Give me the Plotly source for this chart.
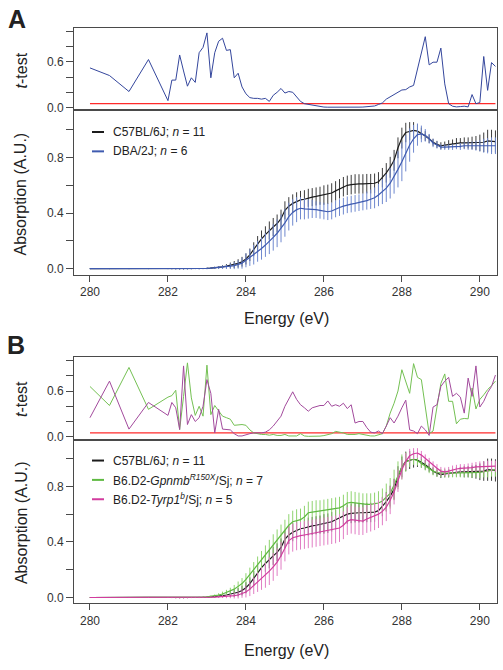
import plotly.graph_objects as go

# ---------------- data ----------------
ENERGY = [280.0, 280.5, 281.0, 281.5,
          282.0, 282.1, 282.2, 282.3, 282.4, 282.5, 282.6, 282.7, 282.8, 282.9,
          283.0, 283.1, 283.2, 283.3, 283.4, 283.5, 283.6, 283.7, 283.8, 283.9,
          284.0, 284.1, 284.2, 284.3, 284.4, 284.5, 284.6, 284.7, 284.8, 284.9,
          285.0, 285.1, 285.2, 285.3, 285.4, 285.5, 285.6, 285.7, 285.8, 285.9,
          286.0, 286.1, 286.2, 286.3, 286.4, 286.5, 286.6, 286.7, 286.8, 286.9,
          287.0, 287.1, 287.2, 287.3, 287.4, 287.5, 287.6, 287.7, 287.8, 287.9,
          288.0, 288.1, 288.2, 288.3, 288.4, 288.5, 288.6, 288.7, 288.8, 288.9,
          289.0, 289.1, 289.2, 289.3, 289.4, 289.5, 289.6, 289.7, 289.8, 289.9,
          290.0, 290.1, 290.2, 290.3, 290.4]

THRESHOLD = 0.05

T_DBA = [0.52, 0.42, 0.21, 0.63,
         0.09, 0.36, 0.36, 0.69, 0.48, 0.28, 0.39, 0.33, 0.72, 0.79,
         0.98, 0.39, 0.72, 0.87, 0.91, 0.75, 0.76, 0.39, 0.45, 0.27,
         0.18, 0.13, 0.12, 0.12, 0.11, 0.12, 0.08, 0.16, 0.20, 0.25,
         0.19, 0.21, 0.20, 0.14, 0.08, 0.05, 0.04, 0.03, 0.02, 0.01,
         0.006, 0.004, 0.003, 0.003, 0.003, 0.003, 0.003, 0.003, 0.004, 0.005,
         0.006, 0.008, 0.012, 0.02, 0.04, 0.06, 0.11, 0.14, 0.16, 0.20,
         0.23, 0.235, 0.27, 0.29, 0.51, 0.72, 0.93, 0.56, 0.595, 0.595,
         0.78, 0.31, 0.05, 0.017, 0.008, 0.012, 0.017, 0.008, 0.17, 0.05,
         0.065, 0.67, 0.225, 0.59, 0.54]

T_GPNMB = [0.66, 0.41, 0.91, 0.36,
           0.52, 0.54, 0.61, 0.095, 0.53, 0.97, 0.51, 0.28, 0.40, 0.27,
           0.94, 0.29, 0.41, 0.335, 0.27, 0.25, 0.23, 0.15, 0.16, 0.16,
           0.15, 0.09, 0.05, 0.04, 0.03, 0.03, 0.02, 0.03, 0.017, 0.017,
           0.03, 0.01, 0.01, 0.01, 0.04, 0.01, 0.005, 0.005, 0.005, 0.008,
           0.015, 0.03, 0.04, 0.07, 0.06, 0.05, 0.03, 0.03, 0.03, 0.04,
           0.03, 0.01, 0.01, 0.01, 0.02, 0.04, 0.14, 0.31, 0.44, 0.60,
           0.88, 0.73, 0.57, 0.96, 0.78, 0.75, 0.40, 0.04, 0.075, 0.36,
           0.70, 0.825, 0.465, 0.465, 0.17, 0.23, 0.24, 0.235, 0.64, 0.365,
           0.49, 0.55, 0.62, 0.67, 0.73]

T_TYRP1 = [0.25, 0.73, 0.10, 0.45,
           0.28, 0.45, 0.38, 0.095, 0.93, 0.16, 0.29, 0.20, 0.25, 0.40,
           0.75, 0.57, 0.05, 0.36, 0.10, 0.095, 0.09, 0.04, 0.01, 0.01,
           0.03, 0.04, 0.05, 0.05, 0.05, 0.06, 0.09, 0.14, 0.20, 0.27,
           0.40, 0.49, 0.59, 0.49, 0.42, 0.38, 0.335, 0.38, 0.40, 0.41,
           0.41, 0.47, 0.40, 0.42, 0.40, 0.44, 0.37, 0.42, 0.18, 0.20,
           0.20, 0.12, 0.06, 0.05, 0.075, 0.04, 0.14, 0.25, 0.18, 0.27,
           0.38, 0.48, 0.09, 0.075, 0.04, 0.14, 0.09, 0.017, 0.39, 0.42,
           0.66, 0.73, 0.78, 0.53, 0.57, 0.52, 0.31, 0.77, 0.53, 0.93,
           0.39, 0.465, 0.58, 0.66, 0.81]

ABS_B6 = [0.0, 0.0, 0.0, 0.0,
          0.0, -0.001, -0.002, -0.003, -0.003, -0.002, -0.001, 0.0, 0.0, 0.001,
          0.002, 0.004, 0.006, 0.009, 0.013, 0.018, 0.024, 0.03, 0.038, 0.05,
          0.07, 0.1, 0.14, 0.18, 0.215, 0.245, 0.275, 0.3, 0.325, 0.36,
          0.42, 0.45, 0.47, 0.485, 0.495, 0.5, 0.51, 0.515, 0.52, 0.525,
          0.53, 0.535, 0.545, 0.56, 0.575, 0.59, 0.6, 0.605, 0.61, 0.61,
          0.61, 0.612, 0.612, 0.615, 0.625, 0.655, 0.69, 0.73, 0.78, 0.87,
          0.94, 0.98, 0.99, 0.995, 0.99, 0.975, 0.955, 0.935, 0.91, 0.895,
          0.885, 0.89, 0.895, 0.9, 0.905, 0.905, 0.905, 0.905, 0.905, 0.905,
          0.905, 0.91, 0.92, 0.92, 0.915]
ERR_B6 = [0.003, 0.003, 0.003, 0.003,
          0.003, 0.003, 0.003, 0.003, 0.003, 0.003, 0.003, 0.003, 0.004, 0.004,
          0.005, 0.006, 0.008, 0.01, 0.012, 0.015, 0.02, 0.025, 0.03, 0.035,
          0.04, 0.045, 0.05, 0.055, 0.06, 0.06, 0.065, 0.065, 0.065, 0.065,
          0.065, 0.065, 0.065, 0.065, 0.065, 0.065, 0.065, 0.065, 0.065, 0.065,
          0.07, 0.07, 0.07, 0.07, 0.07, 0.07, 0.07, 0.07, 0.07, 0.07,
          0.07, 0.07, 0.07, 0.07, 0.07, 0.07, 0.07, 0.075, 0.075, 0.075,
          0.075, 0.07, 0.065, 0.06, 0.05, 0.04, 0.035, 0.03, 0.025, 0.025,
          0.025, 0.025, 0.03, 0.03, 0.035, 0.035, 0.04, 0.04, 0.045, 0.05,
          0.06, 0.07, 0.08, 0.08, 0.08]

ABS_DBA = [0.0, 0.0, 0.0, 0.0,
           0.0, -0.001, -0.002, -0.003, -0.003, -0.002, -0.001, 0.0, 0.0, 0.001,
           0.002, 0.004, 0.006, 0.008, 0.01, 0.013, 0.018, 0.022, 0.03, 0.04,
           0.06, 0.08, 0.1, 0.125, 0.145, 0.17, 0.195, 0.225, 0.255, 0.29,
           0.33, 0.375, 0.405, 0.425, 0.435, 0.43, 0.43, 0.43, 0.425, 0.42,
           0.415, 0.41, 0.415, 0.43, 0.44, 0.45, 0.46, 0.465, 0.47, 0.475,
           0.48, 0.49, 0.5, 0.51, 0.53, 0.555, 0.58, 0.615, 0.66, 0.715,
           0.77, 0.83, 0.89, 0.935, 0.965, 0.97, 0.96, 0.935, 0.905, 0.89,
           0.875, 0.875, 0.875, 0.875, 0.88, 0.88, 0.885, 0.885, 0.885, 0.885,
           0.885, 0.885, 0.885, 0.885, 0.885]
ERR_DBA = [0.003, 0.003, 0.003, 0.003,
           0.003, 0.003, 0.003, 0.003, 0.003, 0.003, 0.003, 0.003, 0.004, 0.004,
           0.005, 0.006, 0.008, 0.01, 0.012, 0.015, 0.02, 0.025, 0.03, 0.04,
           0.05, 0.06, 0.07, 0.075, 0.08, 0.085, 0.09, 0.095, 0.1, 0.1,
           0.1, 0.1, 0.095, 0.09, 0.08, 0.075, 0.07, 0.065, 0.06, 0.06,
           0.06, 0.06, 0.06, 0.06, 0.06, 0.06, 0.06, 0.06, 0.06, 0.06,
           0.06, 0.065, 0.07, 0.075, 0.08, 0.09, 0.1, 0.11, 0.12, 0.13,
           0.14, 0.13, 0.12, 0.1, 0.08, 0.06, 0.045, 0.035, 0.03, 0.025,
           0.02, 0.02, 0.02, 0.02, 0.02, 0.025, 0.025, 0.03, 0.03, 0.035,
           0.04, 0.05, 0.055, 0.06, 0.06]

ABS_GPNMB = [0.0, 0.0, 0.0, 0.0,
             0.0, -0.001, -0.002, -0.002, -0.002, -0.001, 0.0, 0.0, 0.001, 0.002,
             0.004, 0.007, 0.012, 0.018, 0.025, 0.035, 0.045, 0.06, 0.08, 0.1,
             0.13, 0.165, 0.2, 0.235, 0.27, 0.305, 0.34, 0.375, 0.41, 0.445,
             0.48, 0.52, 0.545, 0.555, 0.56, 0.58, 0.61, 0.615, 0.62, 0.62,
             0.625, 0.63, 0.635, 0.64, 0.645, 0.66, 0.68, 0.685, 0.68, 0.675,
             0.67, 0.67, 0.67, 0.675, 0.68, 0.695, 0.72, 0.75, 0.81, 0.88,
             0.94, 0.975, 0.99, 0.995, 0.985, 0.965, 0.945, 0.925, 0.91, 0.9,
             0.895, 0.895, 0.895, 0.895, 0.895, 0.895, 0.895, 0.895, 0.895, 0.9,
             0.9, 0.905, 0.91, 0.915, 0.92]
ERR_GPNMB = [0.003, 0.003, 0.003, 0.003,
             0.003, 0.003, 0.003, 0.003, 0.003, 0.003, 0.003, 0.004, 0.004, 0.004,
             0.005, 0.007, 0.01, 0.013, 0.017, 0.02, 0.025, 0.03, 0.035, 0.04,
             0.045, 0.05, 0.055, 0.06, 0.065, 0.07, 0.075, 0.08, 0.08, 0.08,
             0.08, 0.08, 0.08, 0.08, 0.08, 0.08, 0.08, 0.08, 0.08, 0.08,
             0.08, 0.08, 0.08, 0.08, 0.08, 0.08, 0.08, 0.08, 0.08, 0.08,
             0.08, 0.08, 0.08, 0.08, 0.085, 0.09, 0.1, 0.11, 0.11, 0.1,
             0.09, 0.07, 0.05, 0.04, 0.035, 0.03, 0.03, 0.03, 0.03, 0.03,
             0.03, 0.03, 0.03, 0.03, 0.03, 0.03, 0.03, 0.03, 0.035, 0.035,
             0.04, 0.04, 0.045, 0.045, 0.05]

ABS_TYRP1 = [0.0, 0.0, 0.0, 0.0,
             0.0, -0.001, -0.002, -0.003, -0.003, -0.002, -0.001, 0.0, 0.0, 0.0,
             0.001, 0.002, 0.003, 0.004, 0.005, 0.007, 0.01, 0.013, 0.018, 0.028,
             0.04, 0.06, 0.085, 0.11, 0.135, 0.16, 0.19, 0.22, 0.255, 0.3,
             0.36, 0.41, 0.43, 0.44, 0.445, 0.45, 0.455, 0.46, 0.465, 0.47,
             0.475, 0.48, 0.485, 0.49, 0.5, 0.52, 0.55, 0.56, 0.555, 0.55,
             0.55, 0.565, 0.575, 0.585, 0.6, 0.62, 0.65, 0.7, 0.76, 0.84,
             0.92, 0.98, 1.02, 1.035, 1.04, 1.025, 1.0, 0.975, 0.95, 0.93,
             0.91, 0.905, 0.91, 0.92, 0.925, 0.93, 0.93, 0.935, 0.935, 0.94,
             0.94, 0.94, 0.945, 0.945, 0.945]
ERR_TYRP1 = [0.003, 0.003, 0.003, 0.003,
             0.003, 0.003, 0.003, 0.003, 0.003, 0.003, 0.003, 0.003, 0.003, 0.003,
             0.003, 0.004, 0.005, 0.007, 0.009, 0.012, 0.015, 0.02, 0.025, 0.03,
             0.04, 0.05, 0.06, 0.07, 0.08, 0.09, 0.1, 0.1, 0.1, 0.1,
             0.1, 0.1, 0.1, 0.1, 0.1, 0.1, 0.1, 0.1, 0.1, 0.1,
             0.1, 0.1, 0.1, 0.1, 0.1, 0.1, 0.1, 0.1, 0.1, 0.1,
             0.1, 0.1, 0.1, 0.1, 0.1, 0.1, 0.1, 0.1, 0.09, 0.08,
             0.07, 0.06, 0.05, 0.04, 0.035, 0.03, 0.03, 0.03, 0.03, 0.03,
             0.03, 0.03, 0.03, 0.03, 0.03, 0.03, 0.03, 0.03, 0.035, 0.035,
             0.04, 0.04, 0.04, 0.04, 0.04]

X_TICKS = [280, 282, 284, 286, 288, 290]
T_TICKS = [0.0, 0.6]
T_TICK_TEXT = ["0.0", "0.6"]
A_TICKS = [0.0, 0.4, 0.8]
A_TICK_TEXT = ["0.0", "0.4", "0.8"]
MINOR_STEP = 0.2

LEG_A = ["C57BL/6J; <i>n</i> = 11", "DBA/2J; <i>n</i> = 6"]
LEG_B = ["C57BL/6J; <i>n</i> = 11",
         "B6.D2-<i>Gpnmb</i><sup><i>R150X</i></sup>/Sj; <i>n</i> = 7",
         "B6.D2-<i>Tyrp1</i><sup><i>b</i></sup>/Sj; <i>n</i> = 5"]

# ---------------- style ----------------
W, H = 503, 670
FONT = "Liberation Sans, Arial, Helvetica, sans-serif"
C_BLACK, C_BLACK_E = "#1c1c1c", "#3c3c3c"
C_BLUE, C_BLUE_E = "#3f5bb0", "#6f88cf"
C_TBLUE = "#34469c"
C_GREEN, C_GREEN_E = "#5fba42", "#8fd46f"
C_PINK, C_PINK_E = "#d23c9e", "#e17dc4"
C_TGREEN, C_TPURP = "#74c053", "#a24a9c"
C_RED = "#ff2b2b"
FRAME = "#4a4a4a"


def px_x(p):
    return p / W


def px_y(p):
    return 1 - p / H


XDOM = [px_x(74), px_x(497)]
XRANGE = [279.59, 290.44]

fig = go.Figure()


def add_line(x, y, color, xa, ya, width=1.1):
    fig.add_trace(go.Scatter(x=x, y=y, mode="lines", xaxis=xa, yaxis=ya,
                             line=dict(color=color, width=width),
                             showlegend=False, hoverinfo="skip"))


def add_abs(y, err, color, ecolor, xa, ya):
    fig.add_trace(go.Scatter(x=ENERGY, y=y, mode="lines", xaxis=xa, yaxis=ya,
                             line=dict(color=color, width=1.2),
                             error_y=dict(type="data", array=err, visible=True,
                                          color=ecolor, thickness=1, width=0),
                             showlegend=False, hoverinfo="skip"))


# Panel A t-test
add_line([ENERGY[0], ENERGY[-1]], [THRESHOLD, THRESHOLD], C_RED, "x", "y", 1.2)
add_line(ENERGY, T_DBA, C_TBLUE, "x", "y", 1.0)
# Panel A absorption
add_abs(ABS_B6, ERR_B6, C_BLACK, C_BLACK_E, "x2", "y2")
add_abs(ABS_DBA, ERR_DBA, C_BLUE, C_BLUE_E, "x2", "y2")
# Panel B t-test
add_line([ENERGY[0], ENERGY[-1]], [THRESHOLD, THRESHOLD], C_RED, "x3", "y3", 1.2)
add_line(ENERGY, T_GPNMB, C_TGREEN, "x3", "y3", 1.0)
add_line(ENERGY, T_TYRP1, C_TPURP, "x3", "y3", 1.0)
# Panel B absorption
add_abs(ABS_B6, ERR_B6, C_BLACK, C_BLACK_E, "x4", "y4")
add_abs(ABS_GPNMB, ERR_GPNMB, C_GREEN, C_GREEN_E, "x4", "y4")
add_abs(ABS_TYRP1, ERR_TYRP1, C_PINK, C_PINK_E, "x4", "y4")

tickfont = dict(family=FONT, size=12, color="#333333")


def xax(anchor, labels):
    d = dict(domain=XDOM, range=XRANGE, anchor=anchor, showline=True, mirror=True,
             linecolor=FRAME, linewidth=1, showgrid=False, zeroline=False,
             tickfont=tickfont)
    if labels:
        d.update(tickvals=X_TICKS, ticks="outside", ticklen=6, tickcolor=FRAME,
                 showticklabels=True)
    else:
        d.update(ticks="", showticklabels=False)
    return d


def yax(anchor, dom, rng, vals, text):
    return dict(domain=dom, range=rng, anchor=anchor, showline=True, mirror=True,
                linecolor=FRAME, linewidth=1, showgrid=False, zeroline=False,
                tickvals=vals, ticktext=text, ticks="outside", ticklen=7,
                tickcolor=FRAME, tickfont=tickfont,
                minor=dict(tick0=0, dtick=MINOR_STEP, ticks="outside", ticklen=7,
                           tickcolor=FRAME, showgrid=False))


layout = dict(
    width=W, height=H, autosize=False,
    margin=dict(l=0, r=0, t=0, b=0, pad=0),
    paper_bgcolor="white", plot_bgcolor="white",
    font=dict(family=FONT, color="#222222"),
    xaxis=xax("y", False),
    yaxis=yax("x", [px_y(111), px_y(28)], [-0.035, 1.047], T_TICKS, T_TICK_TEXT),
    xaxis2=xax("y2", True),
    yaxis2=yax("x2", [px_y(277), px_y(111)], [-0.045, 1.141], A_TICKS, A_TICK_TEXT),
    xaxis3=xax("y3", False),
    yaxis3=yax("x3", [px_y(443), px_y(360)], [-0.039, 1.043], T_TICKS, T_TICK_TEXT),
    xaxis4=xax("y4", True),
    yaxis4=yax("x4", [px_y(608), px_y(443)], [-0.043, 1.136], A_TICKS, A_TICK_TEXT),
)
fig.update_layout(**layout)

ann = []
shapes = []


def text(x, y, s, size, **kw):
    d = dict(x=px_x(x), y=px_y(y), xref="paper", yref="paper", text=s,
             showarrow=False, xanchor="center", yanchor="middle",
             font=dict(family=FONT, size=size, color="#222222"))
    d.update(kw)
    ann.append(d)


# panel letters
text(17, 19, "<b>A</b>", 25)
text(16, 348, "<b>B</b>", 25)
# axis titles
text(21, 71, "<i>t</i>-test", 16, textangle=-90)
text(21, 196, "Absorption (A.U.)", 16, textangle=-90)
text(21, 402, "<i>t</i>-test", 16, textangle=-90)
text(21, 527, "Absorption (A.U.)", 16, textangle=-90)
text(286, 321, "Energy (eV)", 16)
text(286, 655, "Energy (eV)", 16)


def legend(y0, labels, colors):
    for i, (lab, col) in enumerate(zip(labels, colors)):
        yy = y0 + i * 19.5
        shapes.append(dict(type="line", xref="paper", yref="paper",
                           x0=px_x(92), x1=px_x(104), y0=px_y(yy), y1=px_y(yy),
                           line=dict(color=col, width=2)))
        text(111, yy, lab, 12, xanchor="left", yanchor="middle")


legend(133, LEG_A, [C_BLACK, C_BLUE])
legend(464, LEG_B, [C_BLACK, C_GREEN, C_PINK])

fig.update_layout(annotations=ann, shapes=shapes)

fig.write_html("out.html", config={"displayModeBar": False},
               post_script="document.body.style.margin='0';")
